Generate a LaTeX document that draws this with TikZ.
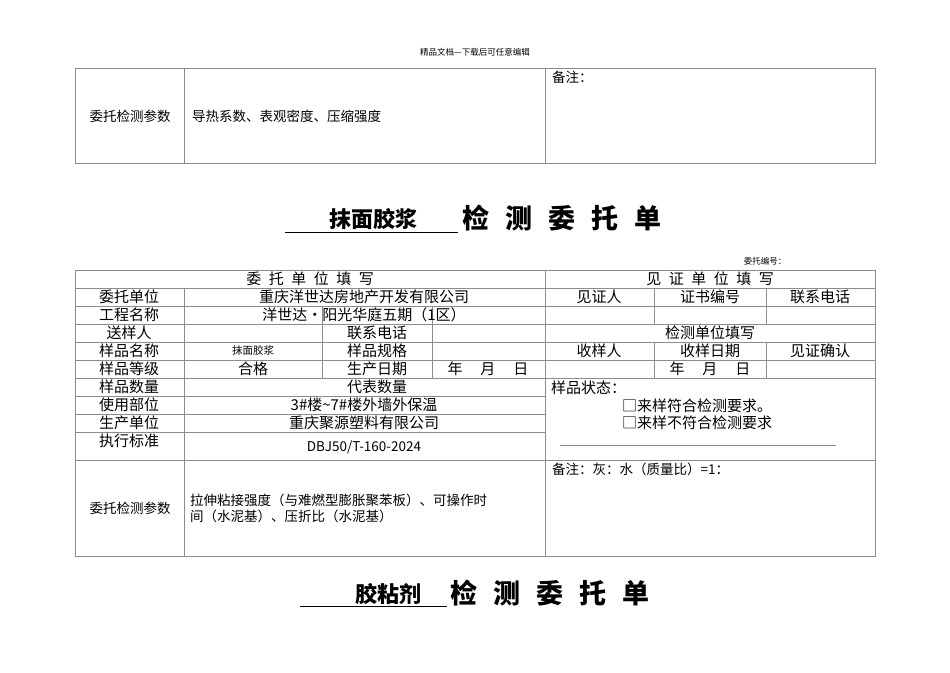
\documentclass[tikz,border=0pt]{standalone}
\usepackage{fontspec}
\setmainfont{Noto Sans CJK SC}
\begin{document}
\begin{tikzpicture}[x=1pt,y=-1pt,
  grid/.style={draw=black!45,line width=0.9pt},
  t/.style={inner sep=0pt,font=\fontsize{15}{15}\selectfont},
  ts/.style={inner sep=0pt,font=\fontsize{13.5}{16}\selectfont},
  tiny/.style={inner sep=0pt,font=\fontsize{8.5}{8.5}\selectfont},
  ttl/.style={inner sep=0pt,font=\fontsize{27}{27}\selectfont\bfseries},
  ttlu/.style={inner sep=0pt,font=\fontsize{22}{22}\selectfont\bfseries}]
\useasboundingbox[fill=white] (0,0) rectangle (950,672);
\node[tiny] (hdr) at (475,52) {精品文档---下载后可任意编辑};
% top table
\draw[grid] (75,68) rectangle (875,163);
\draw[grid] (184,68) -- (184,163) (545,68) -- (545,163);
\node[ts] (p1) at (130,116) {委托检测参数};
\node[ts,anchor=west] (p2) at (192,116) {导热系数、表观密度、压缩强度};
\node[ts,anchor=north west] (p3) at (552,71) {备注：};
% title 1
\draw[line width=0.8pt] (285,232) -- (458,232);
\node[ttlu] (t1a) at (373,219) {抹面胶浆};
\node[ttl] (t1b) at (562,218) {检\hspace{0.6em}测\hspace{0.6em}委\hspace{0.6em}托\hspace{0.6em}单};
\node[tiny] (no) at (765,261) {委托编号：};
% main table
\draw[grid] (75,270) rectangle (875,556);
\draw[grid] (545,270) -- (545,556);
\foreach \y in {288,306,324,342,360,378,396,414,432,460} \draw[grid] (75,\y) -- (545,\y);
\foreach \y in {288,306,324,342,360,378,460} \draw[grid] (545,\y) -- (875,\y);
\draw[grid] (184,288) -- (184,556);
\draw[grid] (322,306) -- (322,378) (432,306) -- (432,378);
\draw[grid] (654,288) -- (654,324) (766,288) -- (766,324);
\draw[grid] (654,342) -- (654,378) (766,342) -- (766,378);
\draw[grid] (560,445) -- (836,445);
\node[t] (a0) at (310,279) {委\hspace{0.5em}托\hspace{0.5em}单\hspace{0.5em}位\hspace{0.5em}填\hspace{0.5em}写};
\node[t] (b0) at (710,279) {见\hspace{0.5em}证\hspace{0.5em}单\hspace{0.5em}位\hspace{0.5em}填\hspace{0.5em}写};
\node[t] (l1) at (129,297) {委托单位};
\node[t] (v1) at (364,297) {重庆洋世达房地产开发有限公司};
\node[t] (l2) at (129,315) {工程名称};
\node[t] (v2) at (364,315) {洋世达·阳光华庭五期（1区）};
\node[t] (l3) at (129,333) {送样人};
\node[t] (m3) at (377,333) {联系电话};
\node[t] (l4) at (129,351) {样品名称};
\node[tiny,font=\fontsize{10.5}{10.5}\selectfont] (v4) at (253,351) {抹面胶浆};
\node[t] (m4) at (377,351) {样品规格};
\node[t] (l5) at (129,369) {样品等级};
\node[t] (v5) at (253,369) {合格};
\node[t] (m5) at (377,369) {生产日期};
\node[t] (d5) at (488,369) {年\hspace{1.2em}月\hspace{1.2em}日};
\node[t] (l6) at (129,387) {样品数量};
\node[t] (m6) at (377,387) {代表数量};
\node[t] (l7) at (129,405) {使用部位};
\node[t] (v7) at (364,405) {3\#楼\textasciitilde7\#楼外墙外保温};
\node[t] (l8) at (129,423) {生产单位};
\node[t] (v8) at (364,423) {重庆聚源塑料有限公司};
\node[t] (l9) at (129,441) {执行标准};
\node[ts] (v9) at (364,447) {DBJ50/T-160-2024};
\node[ts] (l10) at (130,508) {委托检测参数};
\node[ts,anchor=west,align=left] (v10) at (190,508) {拉伸粘接强度（与难燃型膨胀聚苯板）、可操作时\\间（水泥基）、压折比（水泥基）};
\node[t] (r1) at (599,297) {见证人};
\node[t] (r2) at (710,297) {证书编号};
\node[t] (r3) at (820,297) {联系电话};
\node[t] (r4) at (710,333) {检测单位填写};
\node[t] (r5) at (599,351) {收样人};
\node[t] (r6) at (710,351) {收样日期};
\node[t] (r7) at (820,351) {见证确认};
\node[t] (r8) at (710,369) {年\hspace{1.2em}月\hspace{1.2em}日};
\node[t,anchor=west] (r9) at (551,388) {样品状态：};
\node[t,anchor=west] (r10) at (622,406) {□来样符合检测要求。};
\node[t,anchor=west] (r11) at (622,423) {□来样不符合检测要求};
\node[ts,anchor=north west] (r12) at (552,463) {备注：灰：水（质量比）=1：};
% title 2
\draw[line width=0.8pt] (300,606) -- (447,606);
\node[ttlu] (t2a) at (388,594) {胶粘剂};
\node[ttl] (t2b) at (550,593) {检\hspace{0.6em}测\hspace{0.6em}委\hspace{0.6em}托\hspace{0.6em}单};
\end{tikzpicture}
\end{document}
